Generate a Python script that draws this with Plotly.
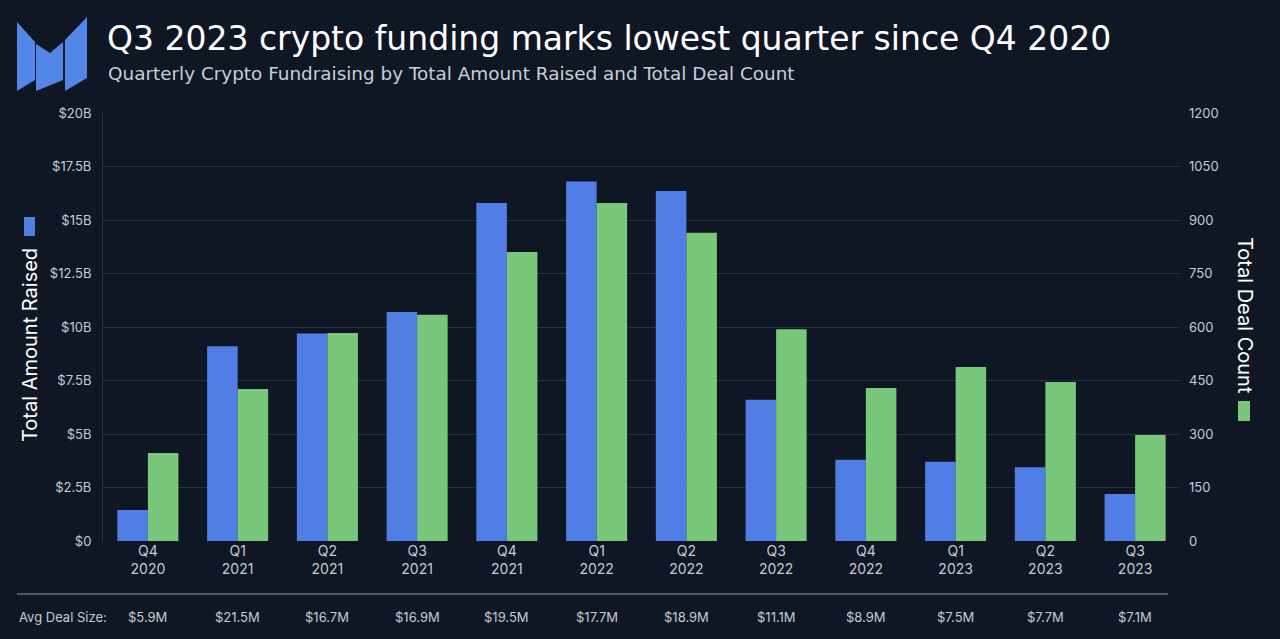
import plotly.graph_objects as go

quarters = ["Q4<br>2020", "Q1<br>2021", "Q2<br>2021", "Q3<br>2021", "Q4<br>2021", "Q1<br>2022",
            "Q2<br>2022", "Q3<br>2022", "Q4<br>2022", "Q1<br>2023", "Q2<br>2023", "Q3<br>2023"]
amount_raised_b = [1.45, 9.1, 9.7, 10.7, 15.8, 16.8, 16.35, 6.6, 3.8, 3.7, 3.45, 2.2]
deal_count = [247, 426, 583, 634, 810, 948, 864, 594, 429, 488, 446, 297]
avg_deal_size = ["$5.9M", "$21.5M", "$16.7M", "$16.9M", "$19.5M", "$17.7M",
                 "$18.9M", "$11.1M", "$8.9M", "$7.5M", "$7.7M", "$7.1M"]
left_ticks = [0, 2.5, 5, 7.5, 10, 12.5, 15, 17.5, 20]
left_ticktext = ["$0", "$2.5B", "$5B", "$7.5B", "$10B", "$12.5B", "$15B", "$17.5B", "$20B"]
right_ticks = [0, 150, 300, 450, 600, 750, 900, 1050, 1200]

W, H = 1280, 639
L, R, T, B = 103, 1180, 113, 541

def px(x):
    return (x - L) / (R - L)

def py(y):
    return (B - y) / (B - T)

BLUE = "#507ee5"
GREEN = "#79c77b"
LOGO = "#5287e8"
BG = "#0f1724"
TXT = "#c6cad2"
FONT = "Inter, Liberation Sans, sans-serif"
TFONT = "DejaVu Sans, sans-serif"

fig = go.Figure()
fig.add_trace(go.Bar(x=quarters, y=amount_raised_b, name="Total Amount Raised",
                     marker=dict(color=BLUE, line=dict(width=0)), offsetgroup="1", yaxis="y"))
fig.add_trace(go.Bar(x=quarters, y=deal_count, name="Total Deal Count",
                     marker=dict(color=GREEN, line=dict(width=0)), offsetgroup="2", yaxis="y2"))

annotations = []
annotations.append(dict(text="Q3 2023 crypto funding marks lowest quarter since Q4 2020",
                        x=px(105), y=py(39), xref="paper", yref="paper", xanchor="left", yanchor="middle",
                        showarrow=False, font=dict(size=33, color="#ffffff", family=TFONT)))
annotations.append(dict(text="Quarterly Crypto Fundraising by Total Amount Raised and Total Deal Count",
                        x=px(106), y=py(74), xref="paper", yref="paper", xanchor="left", yanchor="middle",
                        showarrow=False, font=dict(size=18.4, color="#c9cdd6", family=TFONT)))
annotations.append(dict(text="Total Amount Raised", textangle=-90,
                        x=px(30), y=py(345), xref="paper", yref="paper", xanchor="center", yanchor="middle",
                        showarrow=False, font=dict(size=20, color="#ffffff", family=FONT)))
annotations.append(dict(text="Total Deal Count", textangle=90,
                        x=px(1245), y=py(315), xref="paper", yref="paper", xanchor="center", yanchor="middle",
                        showarrow=False, font=dict(size=20, color="#ffffff", family=FONT)))
annotations.append(dict(text="Avg Deal Size:", x=px(17), y=py(617), xref="paper", yref="paper",
                        xanchor="left", yanchor="middle", showarrow=False,
                        font=dict(size=13, color=TXT, family=FONT)))
for q, a in zip(quarters, avg_deal_size):
    annotations.append(dict(text=a, x=q, y=py(617), xref="x", yref="paper",
                            xanchor="center", yanchor="middle", showarrow=False,
                            font=dict(size=13, color=TXT, family=FONT)))

shapes = [
    # legend swatches next to axis titles
    dict(type="rect", xref="paper", yref="paper", x0=px(24), x1=px(35), y0=py(236), y1=py(217),
         fillcolor=BLUE, line=dict(width=0)),
    dict(type="rect", xref="paper", yref="paper", x0=px(1238), x1=px(1250), y0=py(421), y1=py(401),
         fillcolor=GREEN, line=dict(width=0)),
    # separator line
    dict(type="line", xref="paper", yref="paper", x0=px(17), x1=px(1168), y0=py(594), y1=py(594),
         line=dict(color="#8a93a3", width=1)),
    # logo
    dict(type="path", xref="paper", yref="paper", fillcolor=LOGO, line=dict(width=0),
         path="M {} {} L {} {} L {} {} L {} {} Z".format(px(17), py(22), px(35), py(42), px(35), py(80), px(17), py(91))),
    dict(type="path", xref="paper", yref="paper", fillcolor=LOGO, line=dict(width=0),
         path="M {} {} L {} {} L {} {} L {} {} L {} {} Z".format(px(36), py(44), px(50), py(53), px(63), py(42),
                                                                  px(63), py(80), px(36), py(91))),
    dict(type="path", xref="paper", yref="paper", fillcolor=LOGO, line=dict(width=0),
         path="M {} {} L {} {} L {} {} L {} {} Z".format(px(65), py(40), px(87), py(17), px(87), py(78), px(65), py(91))),
]

fig.update_layout(
    width=W, height=H,
    margin=dict(l=L, r=W - R, t=T, b=H - B, autoexpand=False),
    paper_bgcolor=BG, plot_bgcolor=BG,
    barmode="group", bargap=0.32, bargroupgap=0,
    showlegend=False,
    font=dict(family=FONT, color=TXT, size=13),
    xaxis=dict(tickmode="array", tickvals=quarters, ticktext=quarters, showgrid=False,
               zeroline=False, showline=False, ticks="", tickfont=dict(size=14, color=TXT),
               fixedrange=True),
    yaxis=dict(range=[0, 20], tickvals=left_ticks, ticktext=left_ticktext, showgrid=True,
               gridcolor="#283243", gridwidth=1, zeroline=False, showline=True, linecolor="#283243",
               ticks="", ticklabelstandoff=8, tickfont=dict(size=13, color=TXT)),
    yaxis2=dict(range=[0, 1200], tickvals=right_ticks, overlaying="y", side="right", showgrid=False,
                zeroline=False, showline=False, ticks="", ticklabelstandoff=8,
                tickfont=dict(size=13, color=TXT)),
    annotations=annotations,
    shapes=shapes,
)

fig.write_html("out.html", config=dict(displayModeBar=False),
               post_script="document.body.style.margin='0';document.body.style.overflow='hidden';")
